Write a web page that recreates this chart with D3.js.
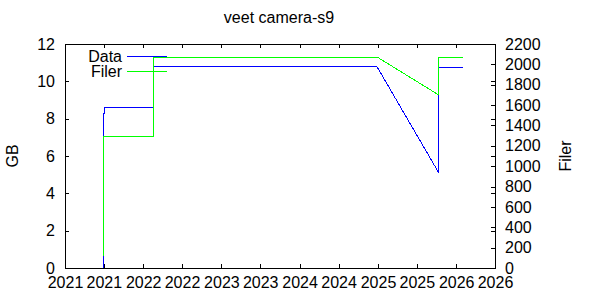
<!DOCTYPE html>
<html>
<head>
<meta charset="utf-8">
<script src="https://cdn.jsdelivr.net/npm/d3@7"></script>
<style>
  body { margin: 0; background: #fff; }
  text { font-family: "Liberation Sans", Arial, sans-serif; font-size: 16px; fill: #000; }
</style>
</head>
<body>
<div id="chart"></div>
<script>
// Data (GB) and Filer (antal filer)
var dataDates = ["2021-06-29", "2021-06-29", "2021-07-04", "2021-07-04", "2022-02-16", "2022-02-16", "2024-12-28", "2025-10-12", "2025-10-12", "2026-02-01"];
var dataGB = [0, 8.3, 8.3, 8.62, 8.62, 10.77, 10.77, 5.09, 10.72, 10.72];
var filerDates = ["2021-06-29", "2021-06-29", "2022-02-16", "2022-02-16", "2024-12-28", "2025-10-12", "2025-10-12", "2026-02-01"];
var filerCount = [118, 1296, 1296, 2072, 2072, 1699, 2072, 2072];
var yTicks = [0, 2, 4, 6, 8, 10, 12];
var y2Ticks = [0, 200, 400, 600, 800, 1000, 1200, 1400, 1600, 1800, 2000, 2200];

var width = 600, height = 300;
var plotLeft = 65, plotRight = 495, plotTop = 44, plotBottom = 268;
var tickLen = 4;

var parse = d3.timeParse("%Y-%m-%d");

var svg = d3.select('#chart').append('svg').attr('width', width).attr('height', height);

var x = d3.scaleTime().domain([parse("2021-01-01"), parse("2026-07-01")]).range([plotLeft, plotRight]);
var y = d3.scaleLinear().domain([0, 12]).range([plotBottom, plotTop]);
var y2 = d3.scaleLinear().domain([0, 2200]).range([plotBottom, plotTop]);

var xTicks = x.ticks(d3.timeMonth.every(6));
var fmt = d3.timeFormat("%Y");

function plain(g) {
  g.select('.domain').remove();
  g.selectAll('text').attr('font-size', 16).attr('font-family', null);
}

// bottom ticks + labels
svg.append('g').attr('transform', 'translate(0,' + plotBottom + ')')
   .call(d3.axisBottom(x).tickValues(xTicks).tickFormat(fmt).tickSizeInner(-tickLen).tickSizeOuter(0).tickPadding(9))
   .call(plain);

// top mirror ticks
svg.append('g').attr('transform', 'translate(0,' + plotTop + ')')
   .call(d3.axisTop(x).tickValues(xTicks).tickFormat('').tickSizeInner(-tickLen).tickSizeOuter(0))
   .call(plain);

// left axis
svg.append('g').attr('transform', 'translate(' + plotLeft + ',0)')
   .call(d3.axisLeft(y).tickValues(yTicks).tickFormat(d3.format('d')).tickSizeInner(-tickLen).tickSizeOuter(0).tickPadding(10))
   .call(plain);

// left ticks mirrored on right side
svg.append('g').attr('transform', 'translate(' + plotRight + ',0)')
   .call(d3.axisRight(y).tickValues(yTicks).tickFormat('').tickSizeInner(-tickLen).tickSizeOuter(0))
   .call(plain);

// right axis (Filer)
svg.append('g').attr('transform', 'translate(' + plotRight + ',0)')
   .call(d3.axisRight(y2).tickValues(y2Ticks).tickFormat(d3.format('d')).tickSizeInner(-tickLen).tickSizeOuter(0).tickPadding(10))
   .call(plain);

svg.selectAll('.tick line').attr('stroke', '#000').attr('shape-rendering', 'crispEdges');

// border
svg.append('rect').attr('x', plotLeft + 0.5).attr('y', plotTop + 0.5)
   .attr('width', plotRight - plotLeft).attr('height', plotBottom - plotTop)
   .attr('fill', 'none').attr('stroke', '#000').attr('shape-rendering', 'crispEdges');

// lines
var lineData = d3.line().x(function(d, i) { return x(parse(dataDates[i])); }).y(function(d) { return y(d); });
var lineFiler = d3.line().x(function(d, i) { return x(parse(filerDates[i])); }).y(function(d) { return y2(d); });

svg.append('path').datum(dataGB).attr('d', lineData)
   .attr('fill', 'none').attr('stroke', '#0000ff').attr('stroke-width', 1).attr('shape-rendering', 'crispEdges');
svg.append('path').datum(filerCount).attr('d', lineFiler)
   .attr('fill', 'none').attr('stroke', '#00ff00').attr('stroke-width', 1).attr('shape-rendering', 'crispEdges');

// legend
var legend = [{name: 'Data', color: '#0000ff'}, {name: 'Filer', color: '#00ff00'}];
var lg = svg.append('g').selectAll('g').data(legend).enter().append('g')
   .attr('transform', function(d, i) { return 'translate(0,' + (56.5 + i * 14.5) + ')'; });
lg.append('text').attr('x', 122).attr('dy', '0.35em').attr('text-anchor', 'end').text(function(d) { return d.name; });
lg.append('line').attr('x1', 127).attr('x2', 167).attr('stroke', function(d) { return d.color; })
   .attr('shape-rendering', 'crispEdges');

// title and axis labels
svg.append('text').attr('x', 279).attr('y', 23).attr('text-anchor', 'middle').text('veet camera-s9');
svg.append('text').attr('transform', 'translate(18,156) rotate(-90)').attr('text-anchor', 'middle').text('GB');
svg.append('text').attr('transform', 'translate(571,156) rotate(-90)').attr('text-anchor', 'middle').text('Filer');
</script>
</body>
</html>
